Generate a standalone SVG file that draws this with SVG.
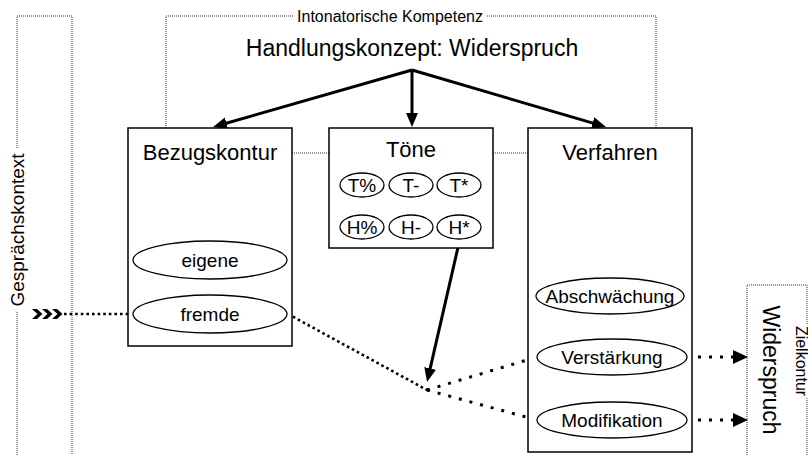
<svg xmlns="http://www.w3.org/2000/svg" width="808" height="455" viewBox="0 0 808 455">
<style>
text{font-family:"Liberation Sans",Arial,sans-serif;fill:#000}
.t{font-size:22px;text-anchor:middle}
.l{font-size:19px;text-anchor:middle}
.box{fill:#fff;stroke:#000;stroke-width:1.5}
.ell{fill:#fff;stroke:#000;stroke-width:1.3}
.frame{fill:none;stroke:#333;stroke-width:1;stroke-dasharray:1 1}
.solid{fill:none;stroke:#000;stroke-width:3}
.dense{fill:none;stroke:#000;stroke-width:2.6;stroke-dasharray:2.6 3}
.sparse{fill:none;stroke:#000;stroke-width:3;stroke-dasharray:3 8}
</style>
<defs>
<marker id="ah" markerUnits="userSpaceOnUse" markerWidth="14" markerHeight="12" refX="3" refY="6" orient="auto">
<path d="M0,0 L14,6 L0,12 z" fill="#000"/>
</marker>
<marker id="ad" markerUnits="userSpaceOnUse" markerWidth="15" markerHeight="14" refX="0" refY="7" orient="auto">
<path d="M0,0 L15,7 L0,14 z" fill="#000"/>
</marker>
</defs>
<rect width="808" height="455" fill="#fff"/>

<g id="gespraechskontext">
<path class="frame" d="M17,455 V312 M17,148 V16 H72 V455"/>
<text transform="translate(24,230) rotate(-90)" style="font-size:19px;text-anchor:middle">Gesprächskontext</text>
</g>

<g id="kompetenz">
<path class="frame" d="M166,128 V16 H293 M487,16 H656 V128"/>
<text x="390" y="22" style="font-size:16px;text-anchor:middle">Intonatorische Kompetenz</text>
<text x="412" y="56" style="font-size:23px;text-anchor:middle">Handlungskonzept: Widerspruch</text>
</g>

<g id="zielkontur">
<path class="frame" d="M747,455 V285 H807 V324 M807,398 V455"/>
<text transform="translate(795.5,361) rotate(90)" style="font-size:16px;text-anchor:middle">Zielkontur</text>
<text transform="translate(763,370) rotate(90)" style="font-size:23px;text-anchor:middle">Widerspruch</text>
</g>

<g id="connectors">
<path class="frame" d="M292,153 H329 M493,153 H528"/>
<line class="solid" x1="412" y1="70" x2="223.6" y2="124" marker-end="url(#ah)"/>
<line class="solid" x1="412" y1="70" x2="412" y2="116" marker-end="url(#ah)"/>
<line class="solid" x1="412" y1="70" x2="595.5" y2="123.9" marker-end="url(#ah)"/>
<line class="solid" x1="459" y1="243" x2="429.5" y2="371.3" marker-end="url(#ah)"/>
<path class="dense" d="M64,314 H133"/>
<path class="dense" d="M288,314 L427,390"/>
<path class="sparse" d="M427,390 L537,357"/>
<path class="sparse" d="M427,390 L537,420"/>
<line class="sparse" x1="687" y1="357" x2="733" y2="357" marker-end="url(#ad)"/>
<line class="sparse" x1="687" y1="420" x2="733" y2="420" marker-end="url(#ad)"/>
<path fill="#000" d="M32,309 h5 l5.5,5 l-5.5,5 h-5 l5.5,-5 z M42,309 h5 l5.5,5 l-5.5,5 h-5 l5.5,-5 z M52,309 h5 l5.5,5 l-5.5,5 h-5 l5.5,-5 z"/>
</g>

<g id="bezugskontur">
<rect class="box" x="128" y="128" width="164" height="218"/>
<text class="t" x="210" y="160">Bezugskontur</text>
<g id="eigene">
<ellipse class="ell" cx="210" cy="260" rx="77" ry="19"/>
<text class="l" x="210" y="267">eigene</text>
</g>
<g id="fremde">
<ellipse class="ell" cx="210" cy="314" rx="77" ry="19"/>
<text class="l" x="210" y="321">fremde</text>
</g>
</g>

<g id="toene">
<rect class="box" x="329" y="128" width="164" height="120"/>
<text class="t" x="411" y="157">Töne</text>
<g id="t-percent"><ellipse class="ell" cx="362" cy="185" rx="22" ry="12"/><text class="l" x="362" y="192">T%</text></g>
<g id="t-minus"><ellipse class="ell" cx="411" cy="185" rx="22" ry="12"/><text class="l" x="411" y="192">T-</text></g>
<g id="t-star"><ellipse class="ell" cx="459" cy="185" rx="22" ry="12"/><text class="l" x="459" y="192">T*</text></g>
<g id="h-percent"><ellipse class="ell" cx="362" cy="227" rx="22" ry="12"/><text class="l" x="362" y="234">H%</text></g>
<g id="h-minus"><ellipse class="ell" cx="411" cy="227" rx="22" ry="12"/><text class="l" x="411" y="234">H-</text></g>
<g id="h-star"><ellipse class="ell" cx="459" cy="227" rx="22" ry="12"/><text class="l" x="459" y="234">H*</text></g>
</g>

<g id="verfahren">
<rect class="box" x="528" y="128" width="164" height="324"/>
<text class="t" x="610" y="160">Verfahren</text>
<g id="abschwaechung">
<ellipse class="ell" cx="610" cy="296" rx="74" ry="18"/>
<text class="l" x="610" y="303">Abschwächung</text>
</g>
<g id="verstaerkung">
<ellipse class="ell" cx="612" cy="357" rx="75" ry="18"/>
<text class="l" x="612" y="364">Verstärkung</text>
</g>
<g id="modifikation">
<ellipse class="ell" cx="612" cy="420" rx="75" ry="18"/>
<text class="l" x="612" y="427">Modifikation</text>
</g>
</g>
</svg>
